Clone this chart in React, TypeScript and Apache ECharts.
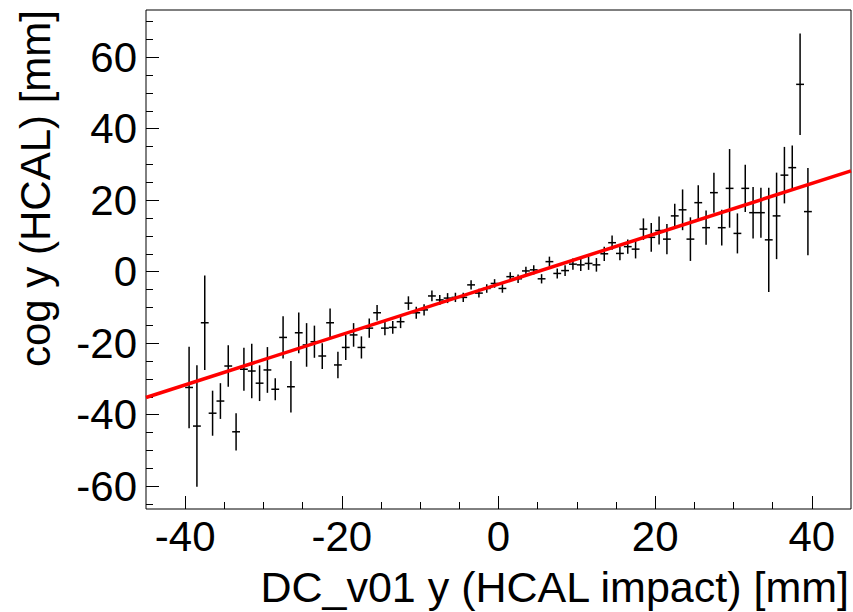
import React, { useEffect, useRef } from "react";
import * as echarts from "echarts";

// bin centres of the profile (mm)
const xBins = [
  -39.5, -38.5, -37.5, -36.5, -35.5, -34.5, -33.5, -32.5, -31.5, -30.5,
  -29.5, -28.5, -27.5, -26.5, -25.5, -24.5, -23.5, -22.5, -21.5, -20.5,
  -19.5, -18.5, -17.5, -16.5, -15.5, -14.5, -13.5, -12.5, -11.5, -10.5,
  -9.5, -8.5, -7.5, -6.5, -5.5, -4.5, -3.5, -2.5, -1.5, -0.5,
  0.5, 1.5, 2.5, 3.5, 4.5, 5.5, 6.5, 7.5, 8.5, 9.5,
  10.5, 11.5, 12.5, 13.5, 14.5, 15.5, 16.5, 17.5, 18.5, 19.5,
  20.5, 21.5, 22.5, 23.5, 24.5, 25.5, 26.5, 27.5, 28.5, 29.5,
  30.5, 31.5, 32.5, 33.5, 34.5, 35.5, 36.5, 37.5, 38.5, 39.5,
];

// mean cog y per bin (mm)
const yMean = [
  -32.4, -43.2, -14.3, -39.6, -36.2, -26.4, -44.8, -27.3, -27.8, -31.2,
  -27.5, -32.9, -18.4, -32.2, -17.1, -20.5, -19.6, -23.6, -14.3, -26.1,
  -21.2, -17.7, -21.2, -15.8, -11.5, -15.8, -15.6, -14.0, -8.8, -11.5,
  -10.7, -6.8, -7.9, -7.4, -7.2, -7.2, -3.7, -6.0, -4.7, -3.3,
  -4.7, -1.4, -2.0, 0.2, 0.5, -2.0, 2.8, -0.5, 0.3, 2.1,
  1.9, 2.3, 1.9, 5.0, 8.1, 5.1, 7.0, 6.3, 11.9, 9.6,
  11.5, 9.1, 15.6, 17.3, 9.1, 19.3, 12.3, 22.1, 12.3, 23.3,
  10.7, 23.3, 16.5, 16.5, 8.9, 15.6, 27.0, 29.1, 52.4, 16.8,
];

// error on the mean per bin (mm)
const yErr = [
  11.4, 17.0, 13.2, 6.3, 5.0, 5.8, 5.2, 6.0, 7.6, 5.0,
  6.4, 3.1, 5.9, 7.2, 5.7, 6.1, 4.5, 3.6, 4.0, 3.7,
  3.5, 3.3, 3.1, 2.7, 2.2, 2.0, 1.8, 1.8, 1.9, 1.7,
  1.6, 1.5, 1.4, 1.4, 1.3, 1.3, 1.3, 1.2, 1.2, 1.2,
  1.2, 1.2, 1.2, 1.2, 1.3, 1.3, 1.4, 1.4, 1.5, 1.6,
  1.7, 1.8, 1.9, 2.0, 2.0, 1.9, 2.0, 2.6, 3.0, 4.0,
  3.9, 4.2, 3.4, 5.7, 6.1, 4.9, 4.8, 5.6, 5.0, 11.0,
  5.6, 6.6, 7.2, 7.0, 14.6, 12.1, 7.9, 6.2, 14.2, 12.2,
];

// linear fit end points
const fitX = [-45, 45];
const fitY = [-35.2, 28.2];

const xMajor = [-40, -20, 0, 20, 40];
const xMinor = [-35, -30, -25, -15, -10, -5, 5, 10, 15, 25, 30, 35];
const yMajor = [-60, -40, -20, 0, 20, 40, 60];
const yMinor = [-65, -55, -50, -45, -35, -30, -25, -15, -10, -5, 5, 10, 15, 25, 30, 35, 45, 50, 55, 65, 70];

const xTitle = "DC_v01 y (HCAL impact) [mm]";
const yTitle = "cog y (HCAL) [mm]";

const FONT = "'Liberation Sans', Arial, Helvetica, sans-serif";

export default function App() {
  const ref = useRef<HTMLDivElement>(null);
  useEffect(() => {
    if (!ref.current) return;
    const chart = echarts.init(ref.current, null, { renderer: "svg" });
    const X_MIN = -45, X_MAX = 45, Y_MIN = -66.4, Y_MAX = 73.2;
    const labelStyle = { fontFamily: FONT, fontSize: 42, color: "#000" };
    const mk = (vals: number[], len: number, labels: boolean, extra: any) => ({
      type: "value",
      min: extra.min,
      max: extra.max,
      position: extra.position,
      axisLine: { show: false, onZero: false },
      splitLine: { show: false },
      axisTick: {
        show: true,
        inside: true,
        length: len,
        customValues: vals,
        lineStyle: { color: "#000", width: 1 },
      },
      axisLabel: labels
        ? { show: true, customValues: vals, margin: extra.margin, ...labelStyle }
        : { show: false },
    });
    const points = xBins.map((x, i) => [x, yMean[i], yErr[i]]);
    chart.setOption({
      animation: false,
      backgroundColor: "#fff",
      grid: {
        left: 146,
        right: 2,
        top: 10,
        bottom: 103,
        show: true,
        borderColor: "#000",
        borderWidth: 1,
        backgroundColor: "transparent",
      },
      xAxis: [
        mk(xMajor, 13, true, { min: X_MIN, max: X_MAX, position: "bottom", margin: 6 }),
        mk(xMinor, 7, false, { min: X_MIN, max: X_MAX, position: "bottom" }),
      ],
      yAxis: [
        mk(yMajor, 13, true, { min: Y_MIN, max: Y_MAX, position: "left", margin: 9 }),
        mk(yMinor, 7, false, { min: Y_MIN, max: Y_MAX, position: "left" }),
      ],
      series: [
        {
          type: "custom",
          xAxisIndex: 0,
          yAxisIndex: 0,
          clip: true,
          data: points,
          renderItem: (params: any, api: any) => {
            const x = api.value(0);
            const y = api.value(1);
            const e = api.value(2);
            const c = api.coord([x, y]);
            const hi = api.coord([x, y + e]);
            const lo = api.coord([x, y - e]);
            const l = api.coord([x - 0.5, y]);
            const r = api.coord([x + 0.5, y]);
            const st = { stroke: "#000", lineWidth: 1.5 };
            return {
              type: "group",
              children: [
                { type: "line", shape: { x1: c[0], y1: hi[1], x2: c[0], y2: lo[1] }, style: st },
                { type: "line", shape: { x1: l[0], y1: c[1], x2: r[0], y2: c[1] }, style: st },
              ],
            };
          },
          z: 2,
        },
        {
          type: "line",
          xAxisIndex: 0,
          yAxisIndex: 0,
          data: fitX.map((x, i) => [x, fitY[i]]),
          showSymbol: false,
          symbol: "none",
          lineStyle: { color: "#ff0000", width: 3.5 },
          z: 3,
        },
      ],
      graphic: [
        {
          type: "text",
          x: 849,
          y: 587,
          style: {
            text: xTitle,
            fontFamily: FONT,
            fontSize: 43,
            fill: "#000",
            align: "right",
            verticalAlign: "middle",
          },
        },
        {
          type: "text",
          x: 35,
          y: 10,
          rotation: Math.PI / 2,
          style: {
            text: yTitle,
            fontFamily: FONT,
            fontSize: 42,
            fill: "#000",
            align: "right",
            verticalAlign: "middle",
          },
        },
      ],
    });
    return () => chart.dispose();
  }, []);
  return (
    <div
      ref={ref}
      style={{ position: "absolute", left: 0, top: 0, width: 853, height: 612 }}
    />
  );
}
